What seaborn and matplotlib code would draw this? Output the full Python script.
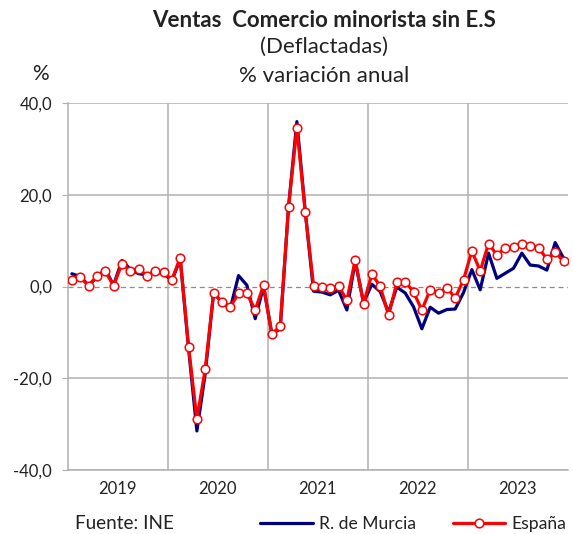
import numpy as np
import pandas as pd
import matplotlib
matplotlib.use("Agg")
import matplotlib.pyplot as plt
import seaborn as sns

# Monthly year-on-year change (%), Jan 2019 - Dec 2023
years = ["2019", "2020", "2021", "2022", "2023"]
espana = [
    1.5, 2.0, 0.2, 2.3, 3.4, 0.2, 5.0, 3.5, 3.9, 2.4, 3.4, 3.1,
    1.5, 6.3, -13.1, -28.9, -18.0, -1.4, -3.3, -4.4, -1.5, -1.5, -5.1, 0.3,
    -10.4, -8.6, 17.3, 34.7, 16.3, 0.2, 0.0, -0.4, 0.2, -3.0, 5.8, -3.7,
    2.7, 0.1, -6.3, 0.9, 1.1, -1.2, -5.1, -0.7, -1.4, -0.2, -2.5, 1.5,
    7.8, 3.4, 9.4, 6.9, 8.4, 8.6, 9.4, 8.9, 8.5, 6.0, 7.5, 5.5,
]
murcia = [
    2.8, 2.2, 0.3, 2.0, 3.8, 0.3, 5.7, 3.8, 2.8, 2.6, 3.2, 2.9,
    1.3, 6.0, -13.5, -31.5, -19.0, -1.5, -3.3, -4.8, 2.4, 0.3, -7.0, 0.0,
    -10.4, -9.2, 17.5, 36.0, 16.5, -1.0, -1.2, -1.8, -0.8, -5.1, 5.5, -3.5,
    0.5, -1.1, -5.6, -0.1, -1.4, -4.4, -9.2, -4.5, -5.8, -5.0, -4.9, -1.3,
    3.7, -0.7, 7.3, 1.8, 2.9, 4.0, 7.3, 4.7, 4.5, 3.6, 9.6, 6.2,
]
yticks = [40, 20, 0, -20, -40]

df = pd.DataFrame({"x": np.arange(len(espana)) + 0.5,
                   "espana": espana, "murcia": murcia})

sns.set_style("white")
plt.rcParams["font.family"] = ["Lato", "DejaVu Sans"]

fig = plt.figure(figsize=(5.74, 5.34), dpi=100)
ax = fig.add_axes([0.118, 0.12, 0.871, 0.6866])

grid = "#b0b0b0"
for v in [40, 20, -20, -40]:
    ax.axhline(v, color=grid, lw=1.1, zorder=0)
ax.axhline(0, color="#8c8c8c", lw=0.9, ls=(0, (4, 3)), zorder=0)
for b in range(12, 60, 12):
    ax.axvline(b, color=grid, lw=1.1, zorder=0)

sns.lineplot(data=df, x="x", y="murcia", ax=ax, color="#00007f", lw=2.3,
             label="R. de Murcia", zorder=2, solid_joinstyle="round")
sns.lineplot(data=df, x="x", y="espana", ax=ax, color="#ff0000", lw=2.3,
             marker="o", markersize=6.2, markerfacecolor="white",
             markeredgecolor="#ff0000", markeredgewidth=1.1,
             label="España", zorder=3)

ax.set_xlim(0, 60)
ax.set_ylim(-40, 40)
ax.set_yticks(yticks)
ax.set_yticklabels([f"{v:.1f}".replace(".", ",") for v in yticks],
                   fontsize=12, color="#222222")
ax.set_xticks([6 + 12 * i for i in range(5)])
ax.set_xticklabels(years, fontsize=12, color="#222222")
ax.tick_params(axis="x", length=0, pad=8)
ax.tick_params(axis="y", length=4.3, color=grid, left=True, pad=7)
ax.set_xlabel("")
ax.set_ylabel("")
for s in ["top", "right"]:
    ax.spines[s].set_visible(False)
for s in ["left", "bottom"]:
    ax.spines[s].set_color(grid)
    ax.spines[s].set_linewidth(1.1)

ax.get_legend().remove()
handles, labels = ax.get_legend_handles_labels()
leg = fig.legend(handles, labels, loc="center", bbox_to_anchor=(0.72, 0.019),
                 ncol=2, frameon=False, fontsize=12.6, handlelength=3.0,
                 columnspacing=2.1, handletextpad=0.35)
for t in leg.get_texts():
    t.set_color("#222222")

fig.text(0.13, 0.02, "Fuente: INE", fontsize=13.6, va="center", ha="left",
         color="#222222")
fig.text(0.565, 0.962, "Ventas  Comercio minorista sin E.S", fontsize=16,
         fontweight="bold", ha="center", va="center", color="#222222")
fig.text(0.565, 0.912, "(Deflactadas)", fontsize=16, ha="center",
         va="center", color="#222222")
fig.text(0.565, 0.857, "% variación anual", fontsize=16, ha="center",
         va="center", color="#222222")
fig.text(0.07, 0.862, "%", fontsize=15, ha="center", va="center",
         color="#222222")

fig.savefig("out.png", dpi=100)
